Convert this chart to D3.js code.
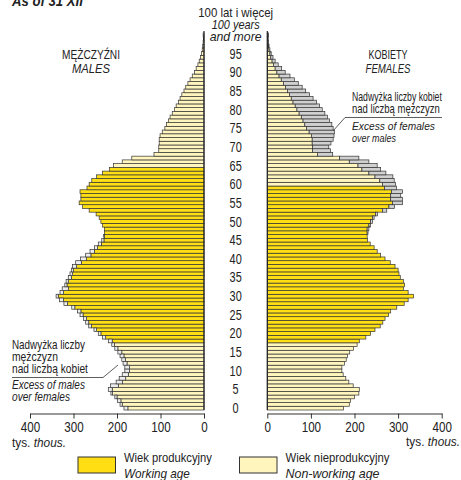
<!DOCTYPE html>
<html>
<head>
<meta charset="utf-8">
<script src="https://cdn.jsdelivr.net/npm/d3@7"></script>
<style>
  body { margin: 0; background: #fff; }
  svg text { font-family: 'Liberation Sans', Arial, sans-serif; fill: #222; }
  .it { font-style: italic; }
</style>
</head>
<body>
<svg id="chart" width="461" height="480"></svg>
<script>
// population by single year of age, thousands (age 100 = 100 and more)
var ages = d3.range(0, 101)
var males = [
  184, 193, 199, 205, 214, 220, 215, 202, 195, 188,
  182, 182, 186, 189, 193, 198, 205, 212, 220, 233,
  243, 253, 265, 272, 277, 285, 291, 304, 322, 332,
  340, 331, 326, 320, 317, 312, 308, 305, 302, 295,
  284, 272, 262, 252, 243, 235, 231, 229, 229, 233,
  237, 241, 248, 264, 279, 287, 283, 283, 285, 269,
  264, 258, 247, 233, 217, 208, 188, 166, 115, 104,
  104, 103, 103, 101, 96, 90, 86, 82, 78, 73,
  68, 64, 59, 55, 51, 46, 42, 37, 32, 27,
  22, 18, 14, 11, 8, 6, 4, 3, 2, 1.5,
  2
]
var females = [
  175, 188, 191, 200, 210, 211, 197, 187, 180, 174,
  171, 171, 177, 181, 184, 189, 198, 206, 211, 226,
  237, 247, 259, 265, 270, 278, 283, 297, 314, 323,
  335, 323, 312, 315, 312, 305, 302, 300, 293, 282,
  270, 260, 252, 245, 236, 230, 229, 231, 233, 237,
  241, 245, 253, 274, 292, 310, 310, 306, 310, 296,
  294, 291, 288, 272, 260, 252, 233, 210, 150, 145,
  141, 146, 151, 153, 154, 151, 148, 143, 138, 132,
  126, 120, 113, 105, 97, 88, 80, 71, 62, 52,
  41, 33, 25, 18, 13, 9, 6, 4, 3, 2,
  3
]
var workAgeMales = [18, 64]
var workAgeFemales = [18, 59]
var xTicks = [0, 100, 200, 300, 400]
var ageTicks = d3.range(0, 100, 5)

var colors = {
  work: '#ffdf14',
  nonWork: '#fff5bd',
  excessMale: '#ededed',
  excessFemale: '#d0d0d0',
  stroke: '#333'
}

var svg = d3.select('#chart')

var yScale = d3.scaleBand()
  .domain(ages)
  .range([410, 33])

var xLeft = d3.scaleLinear().domain([0, 400]).range([204, 30])
var xRight = d3.scaleLinear().domain([0, 400]).range([267.3, 441.7])

var data = ages.map(function (a, i) {
  return { age: a, m: males[i], f: females[i] }
})

function inRange (a, r) { return a >= r[0] && a <= r[1] }

function bars (g, cls, rows, x0, x1, fill) {
  g.selectAll('.' + cls)
    .data(rows)
    .enter()
    .append('rect')
    .attr('class', cls)
    .attr('x', function (d) { return Math.min(x0(d), x1(d)) })
    .attr('width', function (d) { return Math.abs(x1(d) - x0(d)) })
    .attr('y', function (d) { return yScale(d.age) })
    .attr('height', yScale.bandwidth())
    .style('fill', fill)
    .style('stroke', colors.stroke)
    .style('stroke-width', 0.7)
}

// males, left side
var left = svg.append('g').attr('class', 'males')
bars(left, 'base', data,
  function () { return xLeft(0) },
  function (d) { return xLeft(Math.min(d.m, d.f)) },
  function (d) { return inRange(d.age, workAgeMales) ? colors.work : colors.nonWork })
bars(left, 'excess', data.filter(function (d) { return d.m > d.f }),
  function (d) { return xLeft(d.f) },
  function (d) { return xLeft(d.m) },
  colors.excessMale)

// females, right side
var right = svg.append('g').attr('class', 'females')
bars(right, 'base', data,
  function () { return xRight(0) },
  function (d) { return xRight(Math.min(d.m, d.f)) },
  function (d) { return inRange(d.age, workAgeFemales) ? colors.work : colors.nonWork })
bars(right, 'excess', data.filter(function (d) { return d.f > d.m }),
  function (d) { return xRight(d.m) },
  function (d) { return xRight(d.f) },
  colors.excessFemale)

// zero lines
svg.append('line').attr('x1', xLeft(0)).attr('x2', xLeft(0)).attr('y1', 31).attr('y2', 410)
  .style('stroke', '#222').style('stroke-width', 1.2)
svg.append('line').attr('x1', xRight(0)).attr('x2', xRight(0)).attr('y1', 31).attr('y2', 410)
  .style('stroke', '#222').style('stroke-width', 1.2)

// bottom axes
var axisY = 413.5
function styleAxis (g) {
  g.select('.domain').style('stroke', '#333').style('stroke-width', 1)
  g.selectAll('.tick line').style('stroke', '#333')
  g.selectAll('.tick text')
    .style('font-size', '14.5px')
    .attr('font-family', null)
    .attr('fill', '#222')
    .attr('y', 8.5)
    .attr('transform', 'scale(0.8,1)')
}
svg.append('g')
  .attr('transform', 'translate(0,' + axisY + ')')
  .call(d3.axisBottom(xLeft).tickValues(xTicks).tickSize(5).tickSizeOuter(0))
  .call(styleAxis)
svg.append('g')
  .attr('transform', 'translate(0,' + axisY + ')')
  .call(d3.axisBottom(xRight).tickValues(xTicks).tickSize(5).tickSizeOuter(0))
  .call(styleAxis)

// text in a condensed look: squeeze to the width measured on the original
function addText (x, y, str, opts) {
  opts = opts || {}
  var t = svg.append('text')
    .attr('text-anchor', opts.anchor || 'start')
    .attr('class', opts.italic ? 'it' : null)
    .style('font-size', (opts.size || 12.5) + 'px')
    .style('font-weight', opts.bold ? 'bold' : null)
  if (opts.parts) {
    opts.parts.forEach(function (p) {
      t.append('tspan').attr('class', p[1] ? 'it' : null).text(p[0])
    })
  } else {
    t.text(str)
  }
  var sx = opts.sx || 0.8
  if (opts.w) sx = opts.w / t.node().getComputedTextLength()
  t.attr('transform', 'translate(' + x + ',' + y + ') scale(' + sx + ',1)')
  return t
}

// age labels in the middle
var midX = (xLeft(0) + xRight(0)) / 2
ageTicks.forEach(function (a) {
  addText(midX, yScale(a) + yScale.bandwidth() / 2 + 5, a, { anchor: 'middle', size: 14, sx: 0.78 })
})

addText(12, 6, 'As of 31 XII', { italic: true, bold: true, size: 14, w: 71 })

addText(midX, 17, '100 lat i więcej', { anchor: 'middle', size: 12, w: 75 })
addText(midX, 29, '100 years', { anchor: 'middle', italic: true, size: 12, w: 48 })
addText(midX, 41, 'and more', { anchor: 'middle', italic: true, size: 12, w: 52 })

addText(91, 59, 'MĘŻCZYŹNI', { anchor: 'middle', w: 58 })
addText(91, 73, 'MALES', { anchor: 'middle', italic: true, w: 38 })
addText(388, 59, 'KOBIETY', { anchor: 'middle', w: 39 })
addText(388, 73, 'FEMALES', { anchor: 'middle', italic: true, w: 45 })

// annotation females
addText(352, 101, 'Nadwyżka liczby kobiet', { size: 12, w: 90 })
addText(352, 113, 'nad liczbą mężczyzn', { size: 12, w: 88 })
addText(352, 130, 'Excess of females', { italic: true, size: 11.5, w: 83 })
addText(352, 142, 'over males', { italic: true, size: 11.5, w: 44 })
svg.append('polyline')
  .attr('points', '442,117.5 345,117.5 333,131')
  .style('fill', 'none').style('stroke', '#333').style('stroke-width', 0.8)

// annotation males
addText(12, 349, 'Nadwyżka liczby', { size: 12, w: 73 })
addText(12, 361, 'mężczyzn', { size: 12, w: 46 })
addText(12, 373, 'nad liczbą kobiet', { size: 12, w: 76 })
addText(12, 389, 'Excess of males', { italic: true, size: 12, w: 73 })
addText(12, 401, 'over females', { italic: true, size: 12, w: 58 })
svg.append('polyline')
  .attr('points', '12,377.5 103,377.5 118,365')
  .style('fill', 'none').style('stroke', '#333').style('stroke-width', 0.8)

// units
addText(12, 447, '', { size: 13, parts: [['tys. ', false], ['thous.', true]], w: 54 })
addText(460, 446, '', { size: 13, anchor: 'end', parts: [['tys. ', false], ['thous.', true]], w: 54 })

// legend
var legend = [
  { color: colors.work, x: 78, pl: 'Wiek produkcyjny', en: 'Working age', wpl: 88, wen: 66 },
  { color: colors.nonWork, x: 239.5, pl: 'Wiek nieprodukcyjny', en: 'Non-working age', wpl: 104, wen: 94 }
]
legend.forEach(function (d) {
  svg.append('rect')
    .attr('x', d.x)
    .attr('y', 457)
    .attr('width', 37.5)
    .attr('height', 16)
    .style('fill', d.color)
    .style('stroke', '#333')
    .style('stroke-width', 1)
  addText(d.x + 46, 461.5, d.pl, { size: 13, w: d.wpl })
  addText(d.x + 46, 477.5, d.en, { size: 13, italic: true, w: d.wen })
})
</script>
</body>
</html>
